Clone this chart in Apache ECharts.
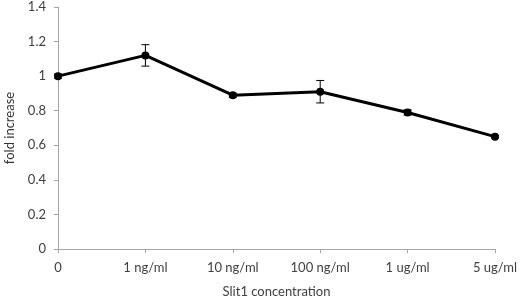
<!DOCTYPE html>
<html>
<head>
<meta charset="utf-8">
<script src="https://cdn.jsdelivr.net/npm/echarts@6/dist/echarts.min.js"></script>
<style>
html,body{margin:0;padding:0;background:#fff;}
#chart{width:520px;height:299px;}
</style>
</head>
<body>
<div id="chart"></div>
<script>
// 数据
var categories = ['0', '1 ng/ml', '10 ng/ml', '100 ng/ml', '1 ug/ml', '5 ug/ml'];
var foldValues = [1.0, 1.12, 0.89, 0.91, 0.79, 0.65];
var errValues = [0.012, 0.062, 0.012, 0.065, 0.015, 0.006];
var yTicks = [0, 0.2, 0.4, 0.6, 0.8, 1, 1.2, 1.4];

var errData = [];
for (var i = 0; i < categories.length; i++) {
	errData.push([i, foldValues[i] - errValues[i], foldValues[i] + errValues[i]]);
}

var chart = echarts.init(document.getElementById('chart'));
var option = {
	animation : false,
	textStyle : {
		fontFamily : 'Lato'
	},
	grid : {
		left : 58,
		right : 25,
		top : 7,
		bottom : 50,
		outerBoundsMode : 'none'
	},
	xAxis : {
		type : 'category',
		data : categories,
		boundaryGap : false,
		name : 'Slit1 concentration',
		nameLocation : 'middle',
		nameGap : 36,
		nameTextStyle : {
			color : '#404040',
			fontSize : 13
		},
		axisLine : {
			lineStyle : {
				color : '#a6a6a6'
			}
		},
		axisTick : {
			alignWithLabel : true,
			length : 4,
			lineStyle : {
				color : '#a6a6a6'
			}
		},
		axisLabel : {
			color : '#404040',
			fontSize : 13,
			margin : 12
		}
	},
	yAxis : {
		type : 'value',
		min : 0,
		max : 1.4,
		interval : 0.2,
		name : 'fold increase',
		nameLocation : 'middle',
		nameGap : 42,
		nameTextStyle : {
			color : '#333',
			fontSize : 13
		},
		axisLine : {
			show : true,
			lineStyle : {
				color : '#a6a6a6'
			}
		},
		axisTick : {
			show : true,
			length : 4,
			lineStyle : {
				color : '#a6a6a6'
			}
		},
		splitLine : {
			show : false
		},
		axisLabel : {
			color : '#404040',
			fontSize : 13,
			margin : 12,
			formatter : function(v) {
				// 只显示刻度列表中的值
				for (var k = 0; k < yTicks.length; k++) {
					if (Math.abs(yTicks[k] - v) < 1e-6) return String(yTicks[k]);
				}
				return '';
			}
		}
	},
	series : [ {
		type : 'line',
		data : foldValues,
		symbol : 'circle',
		symbolSize : 8,
		itemStyle : {
			color : '#000'
		},
		lineStyle : {
			color : '#000',
			width : 3
		},
		z : 3
	}, {
		type : 'custom',
		data : errData,
		z : 4,
		renderItem : function(params, api) {
			var x = api.value(0);
			var lo = api.coord([x, api.value(1)]);
			var hi = api.coord([x, api.value(2)]);
			var w = 4;
			var st = {
				stroke : '#000',
				lineWidth : 1
			};
			return {
				type : 'group',
				children : [
					{ type : 'line', shape : { x1 : lo[0], y1 : lo[1], x2 : hi[0], y2 : hi[1] }, style : st },
					{ type : 'line', shape : { x1 : lo[0] - w, y1 : lo[1], x2 : lo[0] + w, y2 : lo[1] }, style : st },
					{ type : 'line', shape : { x1 : hi[0] - w, y1 : hi[1], x2 : hi[0] + w, y2 : hi[1] }, style : st }
				]
			};
		}
	} ]
};
chart.setOption(option);
</script>
</body>
</html>
